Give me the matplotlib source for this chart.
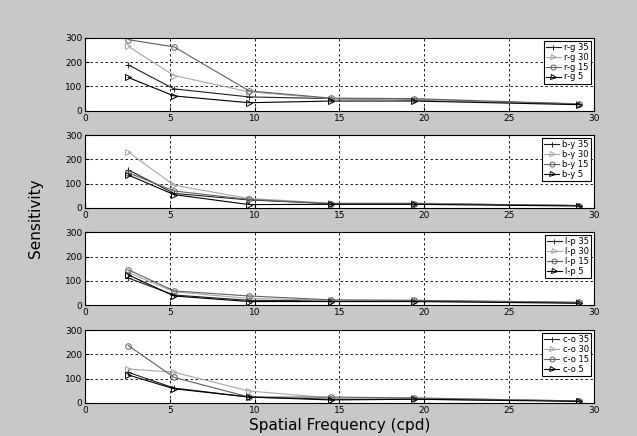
import numpy as np
import matplotlib
matplotlib.use("Agg")
import matplotlib.pyplot as plt

# spatial frequencies (cpd)
freq = [2.55, 5.25, 9.67, 14.5, 19.4, 29.1]

# sensitivity per channel, per condition (35, 30, 15, 5)
rg_35 = [189, 90, 57, 50, 45, 28]
rg_30 = [265, 145, 78, 50, 45, 28]
rg_15 = [293, 263, 82, 52, 50, 28]
rg_5 = [137, 61, 33, 40, 40, 25]

by_35 = [157, 60, 33, 18, 18, 10]
by_30 = [230, 94, 39, 20, 20, 10]
by_15 = [145, 70, 35, 18, 18, 10]
by_5 = [136, 55, 14, 15, 15, 8]

lp_35 = [112, 42, 20, 18, 18, 10]
lp_30 = [135, 55, 28, 20, 20, 12]
lp_15 = [146, 59, 38, 22, 20, 12]
lp_5 = [125, 38, 15, 15, 15, 8]

co_35 = [126, 61, 24, 15, 15, 8]
co_30 = [140, 126, 49, 20, 20, 8]
co_15 = [236, 105, 24, 24, 20, 8]
co_5 = [115, 58, 24, 12, 15, 6]

panels = [
    ("r-g", [rg_35, rg_30, rg_15, rg_5]),
    ("b-y", [by_35, by_30, by_15, by_5]),
    ("l-p", [lp_35, lp_30, lp_15, lp_5]),
    ("c-o", [co_35, co_30, co_15, co_5]),
]
conds = ["35", "30", "15", "5"]
styles = [("+", "#202020"), (">", "#a8a8a8"), ("o", "#606060"), (">", "#000000")]

bg = "#c8c8c8"
fig = plt.figure(figsize=(6.37, 4.36), dpi=100, facecolor=bg)
bottoms = [0.746, 0.523, 0.300, 0.076]

for (name, series), b in zip(panels, bottoms):
    ax = fig.add_axes([0.1334, b, 0.799, 0.167])
    for vals, c, (m, col) in zip(series, conds, styles):
        ax.plot(freq, vals, marker=m, color=col, markerfacecolor="none",
                markeredgecolor=col, lw=0.8, ms=4, mew=0.7,
                label=f"{name} {c}")
    ax.set_xlim(0, 30)
    ax.set_ylim(0, 300)
    ax.set_xticks(range(0, 31, 5))
    ax.set_yticks([0, 100, 200, 300])
    ax.grid(True, color="black", linestyle=(0, (3, 3)), lw=0.6)
    ax.tick_params(labelsize=6.5, length=3, pad=2, direction="in", color="black")
    for s in ax.spines.values():
        s.set_linewidth(0.8)
    leg = ax.legend(loc="upper right", fontsize=6, frameon=True, fancybox=False,
                    edgecolor="black", framealpha=1, handlelength=1.8,
                    borderpad=0.25, labelspacing=0.1, handletextpad=0.4,
                    borderaxespad=0.35, markerscale=0.9)
    leg.get_frame().set_linewidth(0.8)

fig.text(0.055, 0.5, "Sensitivity", rotation=90, ha="center", va="center", fontsize=11)
fig.text(0.533, 0.024, "Spatial Frequency (cpd)", ha="center", va="center", fontsize=11)

fig.savefig("out.png", dpi=100, facecolor=bg)
